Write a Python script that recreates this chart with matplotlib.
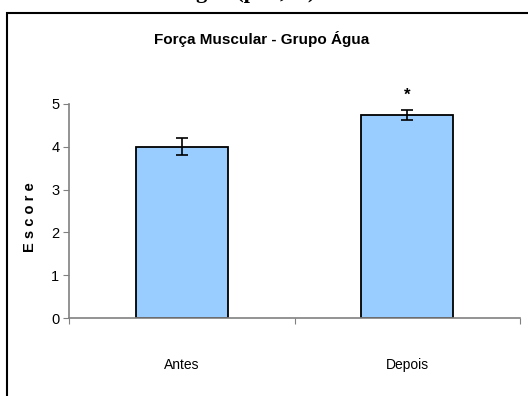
import matplotlib
matplotlib.use("Agg")
import matplotlib.pyplot as plt
from matplotlib.patches import Rectangle

grupos = ["Antes", "Depois"]
escore = [4.0, 4.75]
erro = [0.2, 0.12]
marca = ["", "*"]

plt.rcParams["font.family"] = ["Liberation Sans", "DejaVu Sans"]

fig = plt.figure(figsize=(5.28, 3.96), dpi=100)

# moldura do gráfico (sai pela direita e por baixo)
fig.patches.append(Rectangle((7 / 528, -0.1), 1.2, 1 - 13 / 396 + 0.1, transform=fig.transFigure,
                             fill=False, edgecolor="black", linewidth=1.5))

# legenda da figura, cortada no topo
fig.text(180 / 528, 1 + 2 / 396, "Água (p=0,05)", fontsize=16, fontweight="bold",
         family="Liberation Serif", va="baseline", ha="left")

ax = fig.add_axes([69 / 528, 1 - 318 / 396, (520 - 69) / 528, (318 - 104) / 396])

x = list(range(len(grupos)))
ax.bar(x, escore, width=0.41, color="#99CCFF", edgecolor="black", linewidth=1.3, zorder=2)
ax.errorbar(x, escore, yerr=erro, fmt="none", ecolor="black", elinewidth=1.2,
            capsize=4, capthick=1.2, zorder=3)
for xi, v, e, m in zip(x, escore, erro, marca):
    if m:
        ax.text(xi, v + e + 0.33, m, ha="center", va="center", fontsize=12, fontweight="bold")

ax.set_xlim(-0.5, len(grupos) - 0.5)
ax.set_ylim(0, 5)
ax.set_yticks([0, 1, 2, 3, 4, 5])

ax.set_xticks([-0.5, 0.5, 1.5])
ax.set_xticklabels([])
ax.set_xticks(x, minor=True)
ax.set_xticklabels(grupos, minor=True)
ax.tick_params(axis="x", which="major", direction="out", length=4, color="#808080")
ax.tick_params(axis="x", which="minor", length=0, pad=29, labelsize=10)
ax.tick_params(axis="y", direction="out", length=4, color="#808080", labelsize=10.5, pad=3)

for s in ["top", "right"]:
    ax.spines[s].set_visible(False)
for s in ["left", "bottom"]:
    ax.spines[s].set_color("#808080")
    ax.spines[s].set_linewidth(1.2)

ax.set_ylabel("E s c o r e", fontsize=10.5, fontweight="bold", labelpad=6)
ax.yaxis.set_label_coords(-0.072, 0.47)
fig.text(262 / 528, 1 - 39 / 396, "Força Muscular - Grupo Água", ha="center", va="center",
         fontsize=11, fontweight="bold")

fig.savefig("out.png", dpi=100)
